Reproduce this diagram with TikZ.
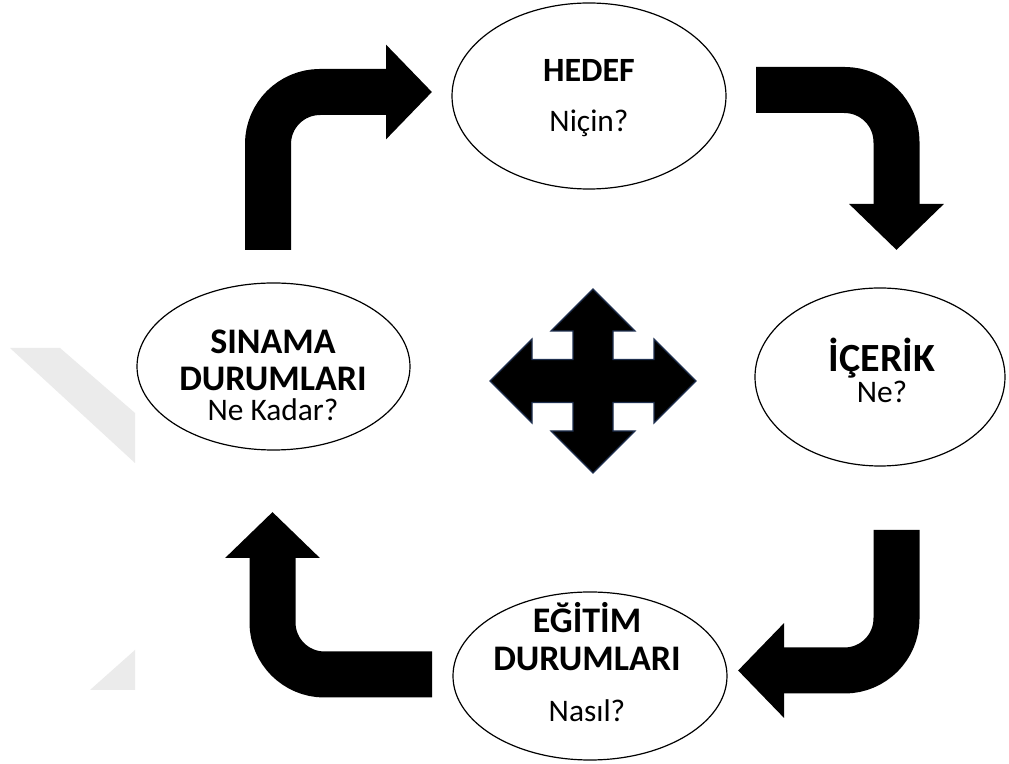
\documentclass[tikz,border=0pt]{standalone}
\usepackage{fontspec}
\setmainfont{Carlito}
\usepackage{tikz}
\usepackage{xcolor}
\usetikzlibrary{arrows.meta,positioning,shapes.geometric}
\definecolor{ink}{HTML}{000000}
\definecolor{hubline}{HTML}{1F3050}
\definecolor{wmgray}{HTML}{EBEBEB}
\tikzset{
  stage/.style={draw=ink,ellipse,line width=0.6pt,fill=white,inner sep=0pt},
  title/.style={anchor=base,inner sep=0pt,font=\fontsize{18}{19}\selectfont\bfseries},
  ask/.style={anchor=base,inner sep=0pt,font=\fontsize{15.7}{19}\selectfont},
  bigarrow/.style={draw=ink,line width=23pt,rounded corners=26pt,
                   -{Triangle[length=23pt,width=46pt]}},
  hubarrow/.style={fill=ink,draw=hubline,line width=0.6pt,line join=miter}
}

\begin{document}
\begin{tikzpicture}[x=0.5pt,y=-0.5pt]
  \useasboundingbox[fill=white] (0,0) rectangle (1009,764);
  % faint watermark
  \fill[wmgray] (10,348) -- (60,348) -- (135,413) -- (135,463) -- cycle;
  \fill[wmgray] (135,650) -- (135,690) -- (90,690) -- cycle;

  \node[stage,minimum width=137pt,minimum height=93pt] (hedef) at (589,96) {};
  \node[stage,minimum width=125pt,minimum height=89pt] (icerik) at (880,377) {};
  \node[stage,minimum width=137pt,minimum height=84pt] (egitim) at (590,676) {};
  \node[stage,minimum width=136.5pt,minimum height=83.5pt] (sinama) at (273.5,366.5) {};

  \node[title,font=\fontsize{17}{19}\selectfont\bfseries] (hedefT) at (589,82) {HEDEF};
  \node[ask] (hedefQ) at (589,132) {Niçin?};
  \node[title,font=\fontsize{20}{19}\selectfont\bfseries] (icerikT) at (882,372) {İÇERİK};
  \node[ask] (icerikQ) at (882,403) {Ne?};
  \node[title] (egitimT) at (587,633) {EĞİTİM};
  \node[title] (egitimT2) at (587,671) {DURUMLARI};
  \node[ask] (egitimQ) at (587,722) {Nasıl?};
  \node[title] (sinamaT) at (273,354) {SINAMA};
  \node[title] (sinamaT2) at (273,391) {DURUMLARI};
  \node[ask] (sinamaQ) at (273,421) {Ne Kadar?};

  % bent arrows round the cycle
  \coordinate (a1s) at (268,250);   \coordinate (a1e) at (432,92);
  \coordinate (a2s) at (756,90);    \coordinate (a2e) at (896.5,250);
  \coordinate (a3s) at (896.5,530); \coordinate (a3e) at (738,670.5);
  \coordinate (a4s) at (432,674.5); \coordinate (a4e) at (272.5,512);
  \draw[bigarrow] (a1s) |- (a1e);
  \draw[bigarrow] (a2s) -| (a2e);
  \draw[bigarrow] (a3s) |- (a3e);
  \draw[bigarrow] (a4s) -| (a4e);

  % four-way arrow in the middle
  \coordinate (hub) at (593,381);
  \draw[hubarrow,shift={(hub)}]
    (0,-92) -- (42,-50) -- (20,-50) -- (20,-21.5) -- (61,-21.5) -- (61,-42)
    -- (103,0) -- (61,42) -- (61,21.5) -- (20,21.5) -- (20,50) -- (42,50)
    -- (0,92) -- (-42,50) -- (-20,50) -- (-20,21.5) -- (-61,21.5) -- (-61,42)
    -- (-103,0) -- (-61,-42) -- (-61,-21.5) -- (-20,-21.5) -- (-20,-50)
    -- (-42,-50) -- cycle;
\end{tikzpicture}
\end{document}
